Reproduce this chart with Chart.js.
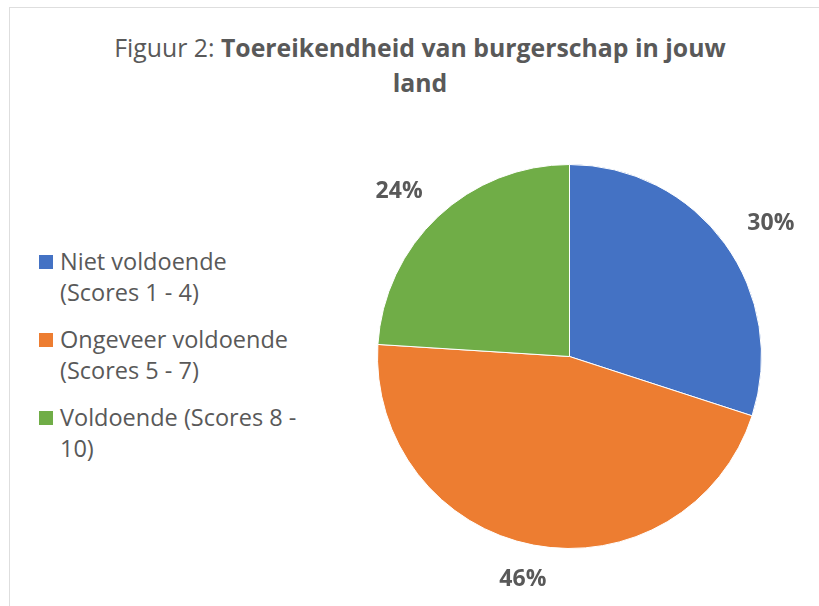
<!DOCTYPE html>
<html>
<head>
<meta charset="utf-8">
<script src="https://cdn.jsdelivr.net/npm/chart.js@4/dist/chart.umd.min.js"></script>
<style>
  html, body { margin: 0; padding: 0; background: #ffffff; }
  body { width: 819px; height: 606px; position: relative; overflow: hidden; font-family: "Open Sans", sans-serif; color: #595959; }
  #frame { position: absolute; left: 9px; top: 7px; width: 900px; height: 700px; border: 1.5px solid #dedede; box-sizing: border-box; }
  #title { position: absolute; left: 100px; width: 640px; top: 30px; text-align: center; font-size: 24.8px; line-height: 35px; }
  #title b { font-weight: 700; }
  #legend { position: absolute; left: 39px; top: 246px; font-size: 23.5px; line-height: 31px; }
  .item { position: relative; padding-left: 21px; margin-bottom: 16px; white-space: nowrap; }
  .box { position: absolute; left: 0; top: 9px; width: 14px; height: 14px; }
  #wrap { position: absolute; left: 0; top: 0; width: 819px; height: 606px; }
</style>
</head>
<body>
<div id="frame"></div>
<div id="title"></div>
<div id="legend"></div>
<div id="wrap"><canvas id="c"></canvas></div>
<script>
// ---- data ----
const titlePrefix = "Figuur 2: ";
const titleLines = ["Toereikendheid van burgerschap in jouw", "land"];
const categories = [
  ["Niet voldoende", "(Scores 1 - 4)"],
  ["Ongeveer voldoende", "(Scores 5 - 7)"],
  ["Voldoende (Scores 8 -", "10)"]
];
const values = [30, 46, 24];
const colors = ["#4472C4", "#ED7D31", "#70AD47"];

// ---- title ----
const t = document.getElementById('title');
t.appendChild(document.createTextNode(titlePrefix));
const b1 = document.createElement('b'); b1.textContent = titleLines[0]; t.appendChild(b1);
t.appendChild(document.createElement('br'));
const b2 = document.createElement('b'); b2.textContent = titleLines[1]; t.appendChild(b2);

// ---- legend ----
const lg = document.getElementById('legend');
categories.forEach((lines, i) => {
  const it = document.createElement('div'); it.className = 'item';
  const bx = document.createElement('span'); bx.className = 'box'; bx.style.background = colors[i];
  it.appendChild(bx);
  lines.forEach((ln, j) => {
    if (j) it.appendChild(document.createElement('br'));
    it.appendChild(document.createTextNode(ln));
  });
  lg.appendChild(it);
});

// ---- outside-end labels plugin ----
const outsideLabels = {
  id: 'outsideLabels',
  afterDatasetsDraw(chart) {
    const ctx = chart.ctx;
    const meta = chart.getDatasetMeta(0);
    const ds = chart.data.datasets[0];
    const total = ds.data.reduce((a, b) => a + b, 0);
    ctx.save();
    ctx.font = 'bold 23px "Open Sans"';
    ctx.fillStyle = '#595959';
    ctx.textAlign = 'center';
    ctx.textBaseline = 'middle';
    meta.data.forEach((arc, i) => {
      const p = arc.getProps(['x', 'y', 'startAngle', 'endAngle', 'outerRadius'], true);
      const mid = (p.startAngle + p.endAngle) / 2;
      const txt = Math.round(ds.data[i] / total * 100) + '%';
      const w = ctx.measureText(txt).width;
      const h = 22;
      const r = p.outerRadius + 24;
      const cx = p.x + Math.cos(mid) * r + Math.cos(mid) * w * 0.7;
      const cy = p.y + Math.sin(mid) * r + Math.sin(mid) * h / 2;
      ctx.fillText(txt, cx, cy);
    });
    ctx.restore();
  }
};

new Chart(document.getElementById('c'), {
  type: 'pie',
  data: {
    labels: categories,
    datasets: [{
      data: values,
      backgroundColor: colors,
      borderColor: '#ffffff',
      borderWidth: 1
    }]
  },
  options: {
    responsive: true,
    maintainAspectRatio: false,
    animation: false,
    layout: { padding: { left: 377, right: 57, top: 164, bottom: 57 } },
    plugins: {
      legend: { display: false },
      title: { display: false },
      tooltip: { enabled: false }
    }
  },
  plugins: [outsideLabels]
});
</script>
</body>
</html>
